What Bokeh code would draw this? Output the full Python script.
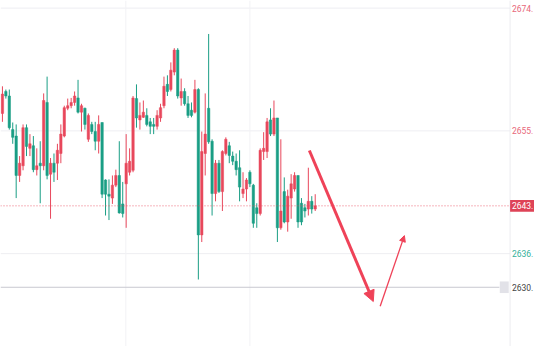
import numpy as np
from bokeh.plotting import figure
from bokeh.models import Range1d, Arrow, NormalHead, ColumnDataSource
from bokeh.core.properties import value
from bokeh.embed import file_html
from bokeh.resources import INLINE

# ---- data ----
opens = [2657.7, 2661.1, 2660.4, 2655.2, 2654.2, 2648.1, 2649.6, 2655.5, 2652.3, 2652.7,
         2649.0, 2650.0, 2649.6, 2659.4, 2648.3, 2650.0, 2650.0, 2651.5, 2654.2, 2658.5,
         2658.9, 2659.4, 2660.1, 2657.9, 2658.5, 2653.7, 2656.0, 2654.9, 2653.4, 2656.3,
         2647.4, 2645.2, 2644.6, 2646.6, 2648.1, 2643.7, 2646.8, 2648.6, 2648.9, 2660.0,
         2656.7, 2657.1, 2657.4, 2656.4, 2656.0, 2655.7, 2657.0, 2658.9, 2662.2, 2661.4,
         2664.1, 2667.5, 2660.1, 2661.1, 2659.2, 2658.2, 2657.9, 2661.4, 2638.9, 2651.5,
         2658.5, 2653.4, 2645.3, 2650.0, 2645.6, 2651.5, 2652.7, 2651.1, 2650.3, 2649.3,
         2645.3, 2646.0, 2648.6, 2646.6, 2643.1, 2642.2, 2651.8, 2651.8, 2656.7, 2654.5,
         2657.0, 2640.0, 2645.6, 2640.9, 2644.6, 2646.0, 2648.1, 2643.8, 2643.1, 2642.9,
         2644.1, 2642.9]
highs = [2661.9, 2661.4, 2661.4, 2656.3, 2656.0, 2651.1, 2656.0, 2656.0, 2654.5, 2654.2,
         2652.3, 2653.4, 2660.8, 2663.4, 2650.8, 2651.5, 2653.0, 2656.0, 2658.9, 2660.0,
         2660.1, 2661.1, 2662.9, 2659.2, 2658.6, 2657.7, 2656.4, 2656.4, 2657.4, 2656.3,
         2647.5, 2647.5, 2648.1, 2649.0, 2653.4, 2647.1, 2654.5, 2652.3, 2660.4, 2662.2,
         2659.4, 2659.7, 2658.5, 2657.0, 2657.0, 2658.2, 2659.2, 2663.4, 2663.6, 2665.6,
         2667.8, 2667.8, 2663.1, 2661.6, 2660.4, 2659.4, 2662.9, 2661.6, 2654.9, 2660.8,
         2670.0, 2653.7, 2650.5, 2650.5, 2652.0, 2654.0, 2653.3, 2651.8, 2651.5, 2652.0,
         2648.6, 2647.7, 2648.9, 2646.8, 2643.8, 2652.3, 2654.8, 2657.0, 2658.5, 2659.7,
         2657.0, 2653.7, 2647.8, 2645.9, 2648.3, 2648.6, 2648.1, 2644.6, 2643.7, 2649.3,
         2644.9, 2645.2]
lows = [2656.4, 2660.0, 2655.2, 2653.0, 2644.6, 2647.1, 2648.9, 2651.1, 2651.1, 2648.6,
        2648.1, 2643.8, 2648.9, 2647.5, 2641.4, 2647.1, 2647.4, 2650.0, 2654.0, 2658.2,
        2658.5, 2658.9, 2657.7, 2654.9, 2655.2, 2653.3, 2654.5, 2652.0, 2651.5, 2644.6,
        2641.9, 2641.2, 2643.7, 2646.3, 2642.2, 2641.6, 2640.0, 2648.1, 2648.6, 2655.5,
        2655.2, 2657.0, 2655.7, 2654.5, 2654.5, 2655.2, 2656.4, 2658.5, 2660.4, 2661.1,
        2663.6, 2660.0, 2658.9, 2658.9, 2657.0, 2657.1, 2657.7, 2632.0, 2637.8, 2648.1,
        2653.0, 2641.9, 2644.1, 2645.4, 2642.6, 2651.2, 2650.0, 2649.7, 2648.1, 2644.1,
        2644.6, 2644.1, 2646.3, 2640.0, 2640.0, 2641.9, 2650.5, 2650.8, 2654.2, 2654.2,
        2637.8, 2639.7, 2640.7, 2639.4, 2641.4, 2645.6, 2640.0, 2640.4, 2641.6, 2641.9,
        2642.2, 2642.6]
closes = [2660.7, 2660.4, 2655.5, 2654.0, 2648.1, 2650.0, 2655.5, 2652.6, 2653.0, 2649.0,
          2649.6, 2649.6, 2659.7, 2648.1, 2650.0, 2648.6, 2652.0, 2654.5, 2658.6, 2658.9,
          2659.4, 2660.4, 2657.9, 2658.9, 2656.0, 2657.4, 2654.9, 2653.4, 2656.0, 2645.2,
          2645.2, 2644.9, 2646.6, 2648.1, 2642.3, 2642.2, 2650.0, 2650.3, 2660.1, 2657.0,
          2657.4, 2657.9, 2656.0, 2655.7, 2655.7, 2657.4, 2658.6, 2661.9, 2661.1, 2664.4,
          2667.5, 2660.4, 2661.1, 2659.2, 2657.4, 2657.4, 2661.4, 2638.9, 2651.8, 2654.5,
          2653.3, 2645.3, 2650.0, 2645.6, 2651.8, 2653.7, 2651.2, 2650.3, 2649.0, 2646.3,
          2646.0, 2647.4, 2646.8, 2640.7, 2642.2, 2652.0, 2652.3, 2656.4, 2654.5, 2657.0,
          2640.0, 2642.6, 2640.9, 2644.9, 2646.8, 2648.1, 2640.9, 2640.9, 2642.6, 2644.1,
          2642.9, 2643.4]

price_ticks = [2674.0, 2655.0, 2636.0]
price_tick_labels = ["2674.", "2655.", "2636."]
last_price = 2643.4
last_price_label = "2643."
alert_price = 2630.8
alert_label = "2630."
time_grid = [35.9, 72.0]

# drawn arrows (start x, start y, end x, end y)
arrow_x0 = [89.3, 109.9]
arrow_y0 = [2651.96, 2627.85]
arrow_x1 = [107.9, 116.95]
arrow_y1 = [2628.59, 2638.79]

UP = "#e8485c"
DOWN = "#1a9e85"

n = len(opens)
x = np.arange(n)
o = np.array(opens); c = np.array(closes)
cols = [UP if cc >= oo else DOWN for oo, cc in zip(o, c)]
src = ColumnDataSource(dict(x=x, top=np.maximum(o, c), bottom=np.minimum(o, c),
                            high=highs, low=lows, color=cols))

X0, X1 = -0.56, 154.8
Y0, Y1 = 2621.63, 2675.18
AX = 147.7  # price-scale separator
lx = 148.25

p = figure(width=534, height=346, output_backend="svg", toolbar_location=None,
           x_range=Range1d(X0, X1), y_range=Range1d(Y0, Y1),
           x_axis_location=None, y_axis_location=None, min_border=0)
p.outline_line_color = None
p.background_fill_color = "white"
p.grid.grid_line_color = None

# grid
for t in price_ticks:
    p.segment(x0=X0, y0=t, x1=AX, y1=t, line_color="#eeeef2", line_width=1)
for t in time_grid:
    p.segment(x0=t, y0=Y0, x1=t, y1=Y1, line_color="#f2f2f5", line_width=1)
p.segment(x0=AX, y0=Y0, x1=AX, y1=Y1, line_color="#ececf0", line_width=1)

# candles
p.segment(x0="x", y0="high", x1="x", y1="low", color="color", line_width=1, source=src)
p.vbar(x="x", width=0.7, top="top", bottom="bottom", fill_color="color",
       line_color="color", line_width=0.5, source=src)

# current price line & alert line
p.segment(x0=X0, y0=last_price, x1=AX, y1=last_price, line_color=UP,
          line_dash="1 2", line_width=1, line_alpha=0.8)
p.segment(x0=X0, y0=alert_price, x1=144.6, y1=alert_price, line_color="#c8c8d0", line_width=1)
p.quad(left=144.7, right=147.3, top=2631.7, bottom=2629.9, fill_color="#e2e2e8",
       line_color=None)

# arrows
p.add_layout(Arrow(end=NormalHead(size=11, fill_color="#ef4258", line_color="#ef4258"),
                   x_start=arrow_x0[0], y_start=arrow_y0[0], x_end=arrow_x1[0], y_end=arrow_y1[0],
                   line_color="#ef4258", line_width=3))
p.add_layout(Arrow(end=NormalHead(size=6, fill_color="#ef4258", line_color="#ef4258"),
                   x_start=arrow_x0[1], y_start=arrow_y0[1], x_end=arrow_x1[1], y_end=arrow_y1[1],
                   line_color="#ef4258", line_width=1.3))

# price scale labels
F = value("Roboto")
FS = "8.5px"
p.text(x=[lx, lx], y=price_ticks[:2], text=price_tick_labels[:2], text_color="#e8677a",
       text_font=F, text_font_size=FS, text_baseline="middle")
p.text(x=[lx], y=price_ticks[2:], text=price_tick_labels[2:], text_color="#33b09a",
       text_font=F, text_font_size=FS, text_baseline="middle")
p.quad(left=AX, right=X1 + 1, top=2644.3, bottom=2642.5, fill_color="#de4357", line_color=None)
p.text(x=[lx], y=[last_price], text=[last_price_label], text_color="white",
       text_font=F, text_font_size=FS, text_baseline="middle")
p.text(x=[lx], y=[alert_price], text=[alert_label], text_color="#444",
       text_font=F, text_font_size=FS, text_baseline="middle")

open("out.html", "w").write(file_html(p, INLINE))
